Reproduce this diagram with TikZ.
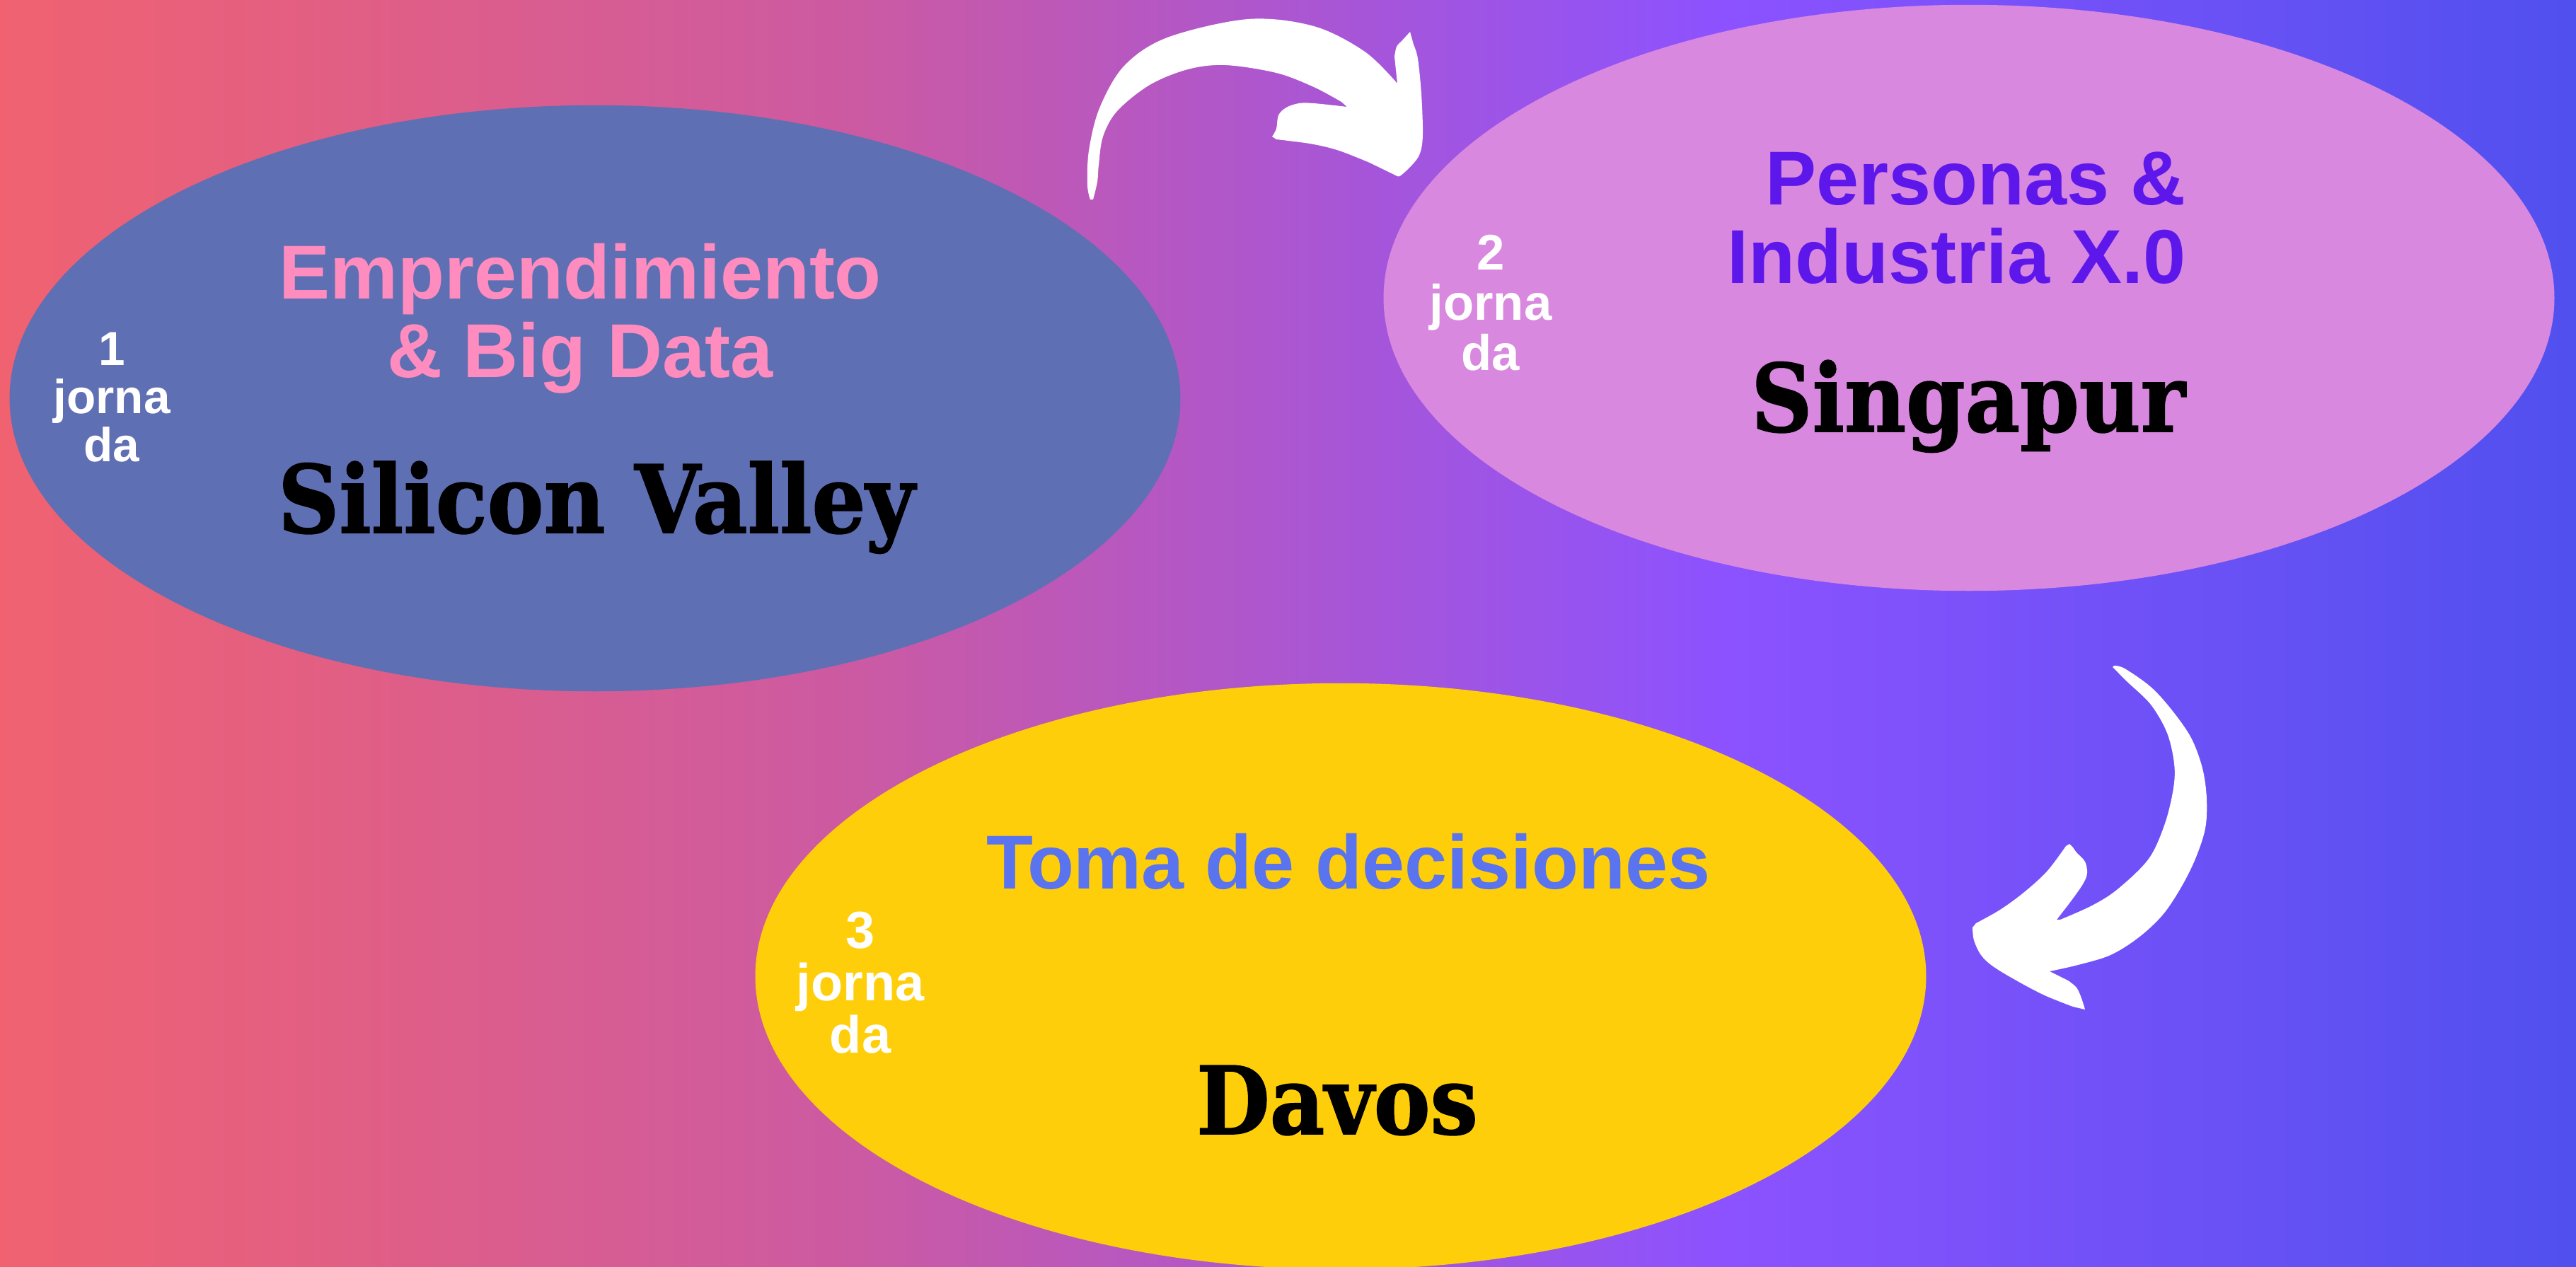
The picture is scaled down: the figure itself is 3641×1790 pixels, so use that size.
\documentclass[tikz,border=0pt]{standalone}
\usepackage{fontspec}
\setmainfont{Liberation Sans}
\newfontfamily\slabfont[FakeStretch=0.9,FakeBold=1.2]{DejaVu Serif}
\usetikzlibrary{shapes.geometric}

\definecolor{bgA}{HTML}{F06270}
\definecolor{bgB}{HTML}{CC5AA2}
\definecolor{bgC}{HTML}{8C52FF}
\definecolor{bgD}{HTML}{5050EE}
\definecolor{valley}{HTML}{5F6FB3}
\definecolor{lilac}{HTML}{D888DE}
\definecolor{sun}{HTML}{FFCE0A}
\definecolor{rose}{HTML}{FF8CBE}
\definecolor{violet}{HTML}{5E17EB}
\definecolor{cobalt}{HTML}{5A73EE}

\pgfdeclarehorizontalshading{backdrop}{100bp}{color(0bp)=(bgA); color(25bp)=(bgA);
  color(41.5bp)=(bgB); color(58.5bp)=(bgC); color(75bp)=(bgD); color(100bp)=(bgD)}

\begin{document}
\begin{tikzpicture}[x=0.01cm,y=-0.01cm,
    day/.style={ellipse,inner sep=0pt,minimum width=16.54cm,minimum height=8.28cm},
    topic/.style={font=\fontsize{30.7}{31.3}\selectfont\bfseries,align=center,anchor=base},
    place/.style={font=\slabfont\bfseries\fontsize{37.8}{40}\selectfont,anchor=base},
    daynum/.style={text=white,align=center,anchor=base,font=\fontsize{#1}{#1}\selectfont\bfseries}]

  \path[use as bounding box,clip] (0,0) rectangle (3641,1790);
  \shade[shading=backdrop] (0,0) rectangle (3641,1790);

  % the three days
  \node[day,fill=valley] (sv) at (841,563) {};
  \node[day,fill=lilac]  (sg) at (2783,421) {};
  \node[day,fill=sun]    (dv) at (1895,1380) {};

  % base of a multi-line node = baseline of its last line
  \node[topic,text=rose] (sv topic) at (820,533) {Emprendimiento\\\& Big Data};
  \node[place] (sv place) at (843,753) {Silicon Valley};
  \node[daynum=19.2] (sv day) at (158,652) {1\\jorna\\da};

  \node[topic,text=violet,align=right,anchor=base east] (sg topic) at (3102,400) {Personas \&\\Industria X.0};
  \node[place] (sg place) at (2782,610) {Singapur};
  \node[daynum=20.1] (sg day) at (2107,523) {2\\jorna\\da};

  \node[topic,text=cobalt] (dv topic) at (1906,1256) {Toma de decisiones};
  \node[place] (dv place) at (1890,1603) {Davos};
  \node[daynum=21] (dv day) at (1216,1488) {3\\jorna\\da};

  % brush arrows
  \fill[white]
    plot[smooth,tension=.55] coordinates {(1541,282) (1537,262) (1539,213) (1554,153) (1589,93) (1650,53) (1764,27) (1857,37) (1929,73) (1975,118)}
    -- plot[smooth,tension=.55] coordinates {(1971,80) (1974,66) (1982,57) (1993,45)}
    -- plot[smooth,tension=.55] coordinates {(1998,63) (2004,83) (2009,133) (2011,190) (2007,217) (1996,233) (1980,248) (1975,249)}
    -- plot[smooth,tension=.55] coordinates {(1936,230) (1893,213) (1857,204) (1821,199) (1804,197)}
    -- plot[smooth,tension=.55] coordinates {(1798,193) (1804,182) (1807,163) (1818,152) (1836,146) (1857,146) (1904,151)}
    -- plot[smooth,tension=.55] coordinates {(1896,144) (1857,123) (1804,103) (1732,92) (1679,98) (1625,120) (1579,157) (1559,193) (1553,233) (1551,257) (1545,282)}
    -- cycle;
  \fill[white]
    plot[smooth,tension=.55] coordinates {(2988,941) (3003,945) (3040,971) (3070,1004) (3097,1043) (3113,1086) (3119,1129) (3117,1171) (3103,1214) (3083,1254) (3057,1293) (3023,1325) (2983,1350) (2937,1364) (2897,1373)}
    -- plot[smooth,tension=.55] coordinates {(2923,1386) (2935,1396) (2942,1411) (2947,1427)}
    -- plot[smooth,tension=.55] coordinates {(2930,1423) (2890,1407) (2850,1386) (2817,1366) (2800,1350) (2790,1329) (2788,1311)}
    -- plot[smooth,tension=.55] coordinates {(2793,1305) (2827,1286) (2860,1262) (2893,1232) (2920,1196)}
    -- plot[smooth,tension=.55] coordinates {(2925,1193) (2930,1198) (2935,1205) (2947,1218) (2950,1234) (2945,1248) (2930,1270) (2907,1300)}
    -- plot[smooth,tension=.55] coordinates {(2912,1300) (2957,1280) (2993,1257) (3037,1214) (3060,1164) (3072,1114) (3073,1079) (3063,1036) (3040,996) (3007,964) (2993,950) (2986,943)}
    -- cycle;
\end{tikzpicture}
\end{document}
